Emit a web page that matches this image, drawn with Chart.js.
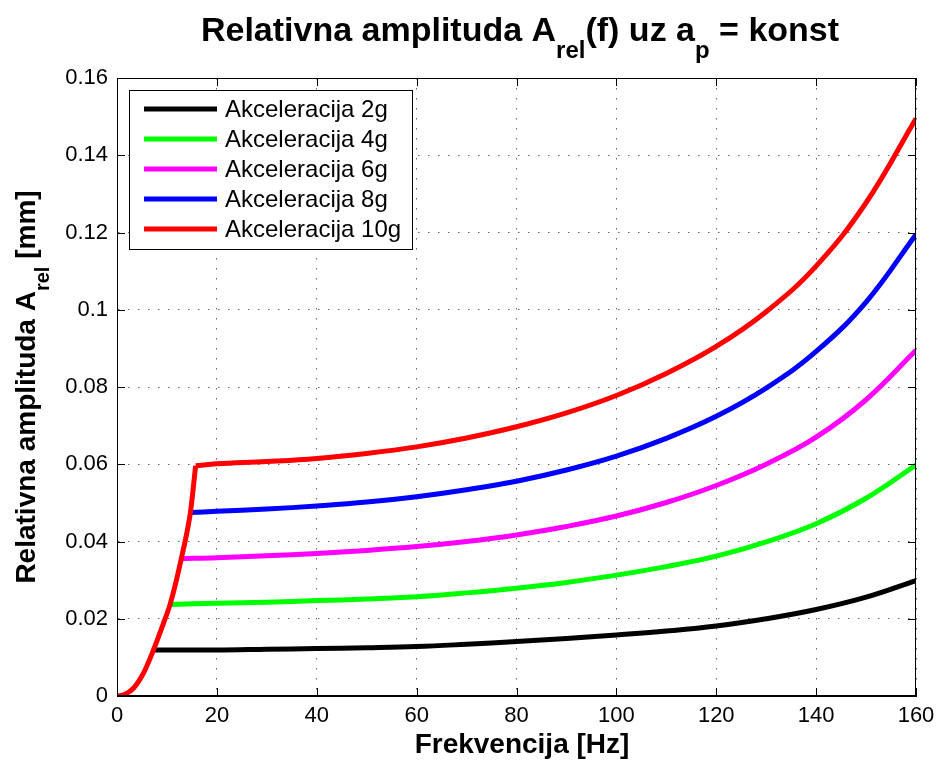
<!DOCTYPE html>
<html>
<head>
<meta charset="utf-8">
<script src="https://cdn.jsdelivr.net/npm/chart.js@4.4.1/dist/chart.umd.min.js"></script>
<style>
html,body{margin:0;padding:0;background:#fff;}
#wrap{width:937px;height:762px;}
</style>
</head>
<body>
<div id="wrap"><canvas id="c" width="937" height="762"></canvas></div>
<script>
// ---------- data ----------
const seriesNames = ['Akceleracija 2g','Akceleracija 4g','Akceleracija 6g','Akceleracija 8g','Akceleracija 10g'];
const seriesColors = ['#000000','#00ff00','#ff00ff','#0000ff','#ff0000'];

const freq2g  = [7.3, 20, 30, 40, 50, 60, 70, 80, 90, 100, 110, 120, 130, 140, 150, 160];
const amp2g   = [0.0119, 0.0119, 0.0121, 0.0123, 0.0125, 0.0128, 0.0134, 0.0141, 0.0149, 0.0158, 0.0168, 0.0181, 0.0200, 0.0224, 0.0256, 0.0299];

const freq4g  = [10.6, 20, 30, 40, 50, 60, 70, 80, 90, 100, 110, 120, 130, 140, 150, 160];
const amp4g   = [0.0237, 0.0240, 0.0243, 0.0247, 0.0251, 0.0257, 0.0267, 0.0279, 0.0294, 0.0313, 0.0335, 0.0362, 0.0399, 0.0446, 0.0512, 0.0598];

const freq6g  = [12.9, 20, 30, 40, 50, 60, 70, 80, 90, 100, 110, 120, 130, 140, 150, 160];
const amp6g   = [0.0356, 0.0358, 0.0363, 0.0369, 0.0377, 0.0387, 0.0400, 0.0417, 0.0439, 0.0466, 0.0501, 0.0545, 0.0600, 0.0670, 0.0767, 0.0895];

const freq8g  = [14.7, 20, 30, 40, 50, 60, 70, 80, 90, 100, 110, 120, 130, 140, 150, 160];
const amp8g   = [0.0475, 0.0478, 0.0484, 0.0492, 0.0502, 0.0516, 0.0534, 0.0556, 0.0585, 0.0621, 0.0667, 0.0724, 0.0797, 0.0892, 0.1020, 0.1195];

// 10g: rising branch (low frequencies) and the branch after the corner
const freq10gRise = [0, 1.5, 3.3, 5.3, 7.3, 9.3, 10.6, 11.9, 12.9, 14.1, 14.7, 15.75];
const amp10gRise  = [0, 0.0004, 0.0020, 0.0059, 0.0119, 0.0188, 0.0236, 0.0300, 0.0357, 0.0430, 0.0475, 0.0596];
const freq10g = [15.75, 20, 30, 40, 50, 60, 70, 80, 90, 100, 110, 120, 130, 140, 150, 160];
const amp10g  = [0.0596, 0.0601, 0.0607, 0.0615, 0.0628, 0.0645, 0.0668, 0.0697, 0.0733, 0.0778, 0.0835, 0.0905, 0.0995, 0.1113, 0.1277, 0.1495];

const xTickValues = [0, 20, 40, 60, 80, 100, 120, 140, 160];
const xTickLabels = ['0','20','40','60','80','100','120','140','160'];
const yTickValues = [0, 0.02, 0.04, 0.06, 0.08, 0.1, 0.12, 0.14, 0.16];
const yTickLabels = ['0','0.02','0.04','0.06','0.08','0.1','0.12','0.14','0.16'];

const titleParts = [{t:'Relativna amplituda A'},{t:'rel',sub:true},{t:'(f) uz a'},{t:'p',sub:true},{t:' = konst'}];
const yTitleParts = [{t:'Relativna amplituda A'},{t:'rel',sub:true},{t:' [mm]'}];
const xTitleText = 'Frekvencija [Hz]';

// ---------- helpers ----------
const FONT = '"Liberation Sans", Arial, Helvetica, sans-serif';
function pts(xs, ys){ return xs.map((x,i)=>({x:x, y:ys[i]})); }

function drawRich(ctx, parts, x, y, mainFont, subFont, subDy){
  let w = 0;
  for (const p of parts){ ctx.font = p.sub ? subFont : mainFont; w += ctx.measureText(p.t).width; }
  let cx = x - w/2;
  ctx.textAlign = 'left';
  ctx.textBaseline = 'alphabetic';
  for (const p of parts){
    ctx.font = p.sub ? subFont : mainFont;
    ctx.fillText(p.t, cx, y + (p.sub ? subDy : 0));
    cx += ctx.measureText(p.t).width;
  }
}

const decorPlugin = {
  id: 'decor',
  afterDraw(chart){
    const ctx = chart.ctx, a = chart.chartArea;
    const xs = chart.scales.x, ys = chart.scales.y;
    ctx.save();
    // box
    ctx.strokeStyle = '#000'; ctx.lineWidth = 1;
    ctx.strokeRect(a.left + 0.5, a.top + 0.5, a.right - a.left - 1, a.bottom - a.top - 1);
    // inward ticks on all four sides
    const tl = 8;
    ctx.beginPath();
    xs.ticks.forEach(t => {
      const px = Math.round(xs.getPixelForValue(t.value)) + 0.5;
      ctx.moveTo(px, a.bottom); ctx.lineTo(px, a.bottom - tl);
      ctx.moveTo(px, a.top); ctx.lineTo(px, a.top + tl);
    });
    ys.ticks.forEach(t => {
      const py = Math.round(ys.getPixelForValue(t.value)) + 0.5;
      ctx.moveTo(a.left, py); ctx.lineTo(a.left + tl, py);
      ctx.moveTo(a.right, py); ctx.lineTo(a.right - tl, py);
    });
    ctx.stroke();

    // legend box
    const lx = a.left + 12, ly = a.top + 12, lw = 283, lh = 159;
    ctx.fillStyle = '#fff';
    ctx.fillRect(lx, ly, lw, lh);
    ctx.strokeStyle = '#000'; ctx.lineWidth = 1;
    ctx.strokeRect(lx + 0.5, ly + 0.5, lw, lh);
    ctx.font = '24px ' + FONT;
    ctx.textAlign = 'left'; ctx.textBaseline = 'alphabetic';
    seriesNames.forEach((name, i) => {
      const cy = ly + 19 + i * 30;
      ctx.strokeStyle = seriesColors[i]; ctx.lineWidth = 5;
      ctx.beginPath(); ctx.moveTo(lx + 15, cy); ctx.lineTo(lx + 88, cy); ctx.stroke();
      ctx.fillStyle = '#000';
      ctx.fillText(name, lx + 96, cy + 8);
    });

    // titles
    ctx.fillStyle = '#000';
    drawRich(ctx, titleParts, 520, 41, 'bold 34px ' + FONT, 'bold 24px ' + FONT, 17);
    ctx.font = 'bold 28px ' + FONT;
    ctx.textAlign = 'center'; ctx.textBaseline = 'alphabetic';
    ctx.fillText(xTitleText, 522, 753);
    ctx.save();
    ctx.translate(35, (a.top + a.bottom) / 2);
    ctx.rotate(-Math.PI / 2);
    drawRich(ctx, yTitleParts, 0, 0, 'bold 28px ' + FONT, 'bold 20px ' + FONT, 14);
    ctx.restore();
    ctx.restore();
  }
};

const gridStyle = { color: 'rgba(0,0,0,0.6)', lineWidth: 1, drawTicks: false };
const borderStyle = { display: true, color: '#000', width: 1, dash: [1.5, 8.5] };

const common = { borderWidth: 5, pointRadius: 0, fill: false, borderJoinStyle: 'round', borderCapStyle: 'butt' };
const smooth = { cubicInterpolationMode: 'default', tension: 0.4 };
const datasets = [
  Object.assign({ label: seriesNames[0], data: pts(freq2g, amp2g), borderColor: seriesColors[0], order: 6 }, common, smooth),
  Object.assign({ label: seriesNames[1], data: pts(freq4g, amp4g), borderColor: seriesColors[1], order: 5 }, common, smooth),
  Object.assign({ label: seriesNames[2], data: pts(freq6g, amp6g), borderColor: seriesColors[2], order: 4 }, common, smooth),
  Object.assign({ label: seriesNames[3], data: pts(freq8g, amp8g), borderColor: seriesColors[3], order: 3 }, common, smooth),
  Object.assign({ label: seriesNames[4], data: pts(freq10g, amp10g), borderColor: seriesColors[4], order: 2 }, common, smooth),
  Object.assign({ label: seriesNames[4], data: pts(freq10gRise, amp10gRise), borderColor: seriesColors[4], order: 1, cubicInterpolationMode: 'monotone' }, common)
];

new Chart(document.getElementById('c'), {
  type: 'line',
  data: { datasets },
  options: {
    responsive: false,
    animation: false,
    events: [],
    layout: { padding: { top: 78, right: 21, left: 0, bottom: 0 } },
    plugins: { legend: { display: false }, title: { display: false }, tooltip: { enabled: false } },
    scales: {
      x: {
        type: 'linear', min: 0, max: 160,
        afterBuildTicks: s => { s.ticks = xTickValues.map(v => ({ value: v })); },
        afterFit: s => { s.height = 66; s.paddingLeft = 0; s.paddingRight = 0; },
        ticks: { callback: v => xTickLabels[xTickValues.indexOf(v)], color: '#000', font: { family: FONT, size: 22 }, padding: 7, maxRotation: 0, autoSkip: false },
        grid: gridStyle, border: borderStyle
      },
      y: {
        type: 'linear', min: 0, max: 0.16,
        afterBuildTicks: s => { s.ticks = yTickValues.map(v => ({ value: v })); },
        afterFit: s => { s.width = 117; s.paddingTop = 0; s.paddingBottom = 0; },
        ticks: { callback: v => yTickLabels[yTickValues.indexOf(v)], color: '#000', font: { family: FONT, size: 22 }, padding: 9, autoSkip: false },
        grid: gridStyle, border: borderStyle
      }
    }
  },
  plugins: [decorPlugin]
});
</script>
</body>
</html>
